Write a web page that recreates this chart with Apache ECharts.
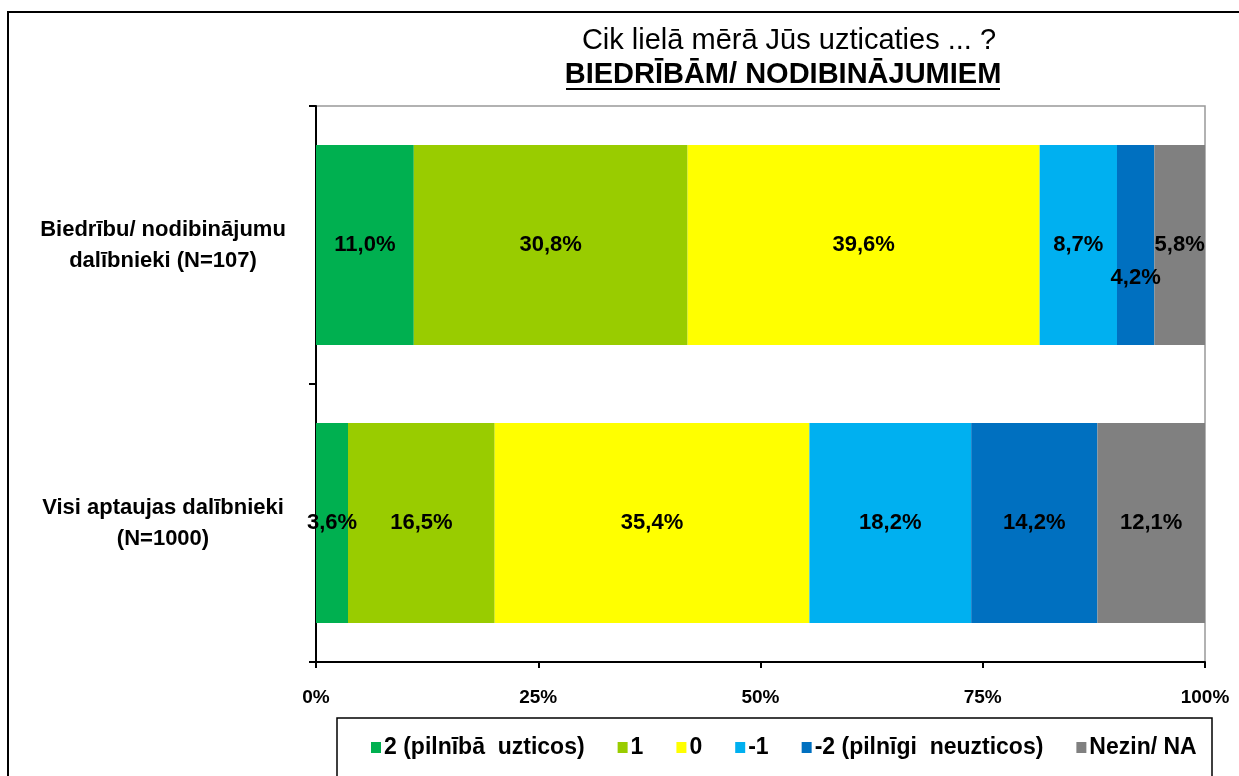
<!DOCTYPE html>
<html>
<head>
<meta charset="utf-8">
<script src="https://cdn.jsdelivr.net/npm/echarts@6/dist/echarts.min.js"></script>
<style>
html, body { margin: 0; padding: 0; background: #fff; }
#chart { width: 1239px; height: 776px; }
</style>
</head>
<body>
<div id="chart"></div>
<script>
// kategorijas un vērtības (%)
var categories = ['Biedrību/ nodibinājumu\ndalībnieki (N=107)', 'Visi aptaujas dalībnieki\n(N=1000)'];
var seriesNames = ['2 (pilnībā  uzticos)', '1', '0', '-1', '-2 (pilnīgi  neuzticos)', 'Nezin/ NA'];
var fullyTrust = [11.0, 3.6];
var trust = [30.8, 16.5];
var neutral = [39.6, 35.4];
var distrust = [8.7, 18.2];
var fullyDistrust = [4.2, 14.2];
var dontKnow = [5.8, 12.1];
var tickLabels = ['0%', '25%', '50%', '75%', '100%'];
var colors = ['#00B050', '#99CC00', '#FFFF00', '#00B0F0', '#0070C0', '#808080'];

var values = [fullyTrust, trust, neutral, distrust, fullyDistrust, dontKnow];
var fontName = 'Liberation Sans, Arial, sans-serif';

var myChart = echarts.init(document.getElementById('chart'));

var series = [];
for (var i = 0; i < values.length; i++) {
    var data = values[i].map(function (v, j) {
        // Excel nobīdīja šauro "4,2%" etiķeti uz leju
        if (i === 4 && j === 0) {
            return { value: v, label: { offset: [0, 33] } };
        }
        return v;
    });
    series.push({
        name: seriesNames[i],
        type: 'bar',
        stack: 'total',
        barCategoryGap: '28%',
        itemStyle: { color: colors[i] },
        label: {
            show: true,
            position: 'inside',
            color: '#000',
            fontFamily: fontName,
            fontWeight: 'bold',
            fontSize: 22,
            formatter: function (p) {
                return p.value.toFixed(1).replace('.', ',') + '%';
            }
        },
        data: data
    });
}

option = {
    animation: false,
    backgroundColor: '#fff',
    title: [
        {
            text: 'Cik lielā mērā Jūs uzticaties ... ?',
            left: 784, top: 21, textAlign: 'center',
            textStyle: { fontFamily: fontName, fontWeight: 'normal', fontSize: 29, color: '#000' }
        },
        {
            text: 'BIEDRĪBĀM/ NODIBINĀJUMIEM',
            left: 778, top: 55, textAlign: 'center',
            textStyle: { fontFamily: fontName, fontWeight: 'bold', fontSize: 29, color: '#000' }
        }
    ],
    graphic: [
        { type: 'rect', shape: { x: 8, y: 12, width: 1300, height: 800 }, style: { fill: null, stroke: '#000', lineWidth: 2 }, z: 100 },
        { type: 'line', shape: { x1: 566, y1: 89, x2: 1000, y2: 89 }, style: { stroke: '#000', lineWidth: 2 } },
        { type: 'rect', shape: { x: 337, y: 718, width: 875, height: 80 }, style: { fill: null, stroke: '#000', lineWidth: 1.5 } }
    ],
    legend: {
        left: 366, top: 731,
        itemWidth: 10, itemHeight: 11, itemGap: 33,
        icon: 'rect',
        textStyle: { fontFamily: fontName, fontWeight: 'bold', fontSize: 23, color: '#000', padding: [0, 0, 0, -2] },
        data: seriesNames
    },
    grid: {
        left: 316, right: 34, top: 106, bottom: 114,
        show: true, borderColor: '#999', borderWidth: 1.5, backgroundColor: '#fff'
    },
    xAxis: {
        type: 'value', min: 0, max: 100, interval: 25,
        axisLine: { show: true, lineStyle: { color: '#000', width: 2 } },
        axisTick: { show: true, length: 6, lineStyle: { color: '#000', width: 2 } },
        splitLine: { show: false },
        axisLabel: {
            margin: 26, color: '#000', fontFamily: fontName, fontWeight: 'bold', fontSize: 19,
            formatter: function (v) { return tickLabels[v / 25]; }
        }
    },
    yAxis: {
        type: 'category', inverse: true, data: categories,
        axisLine: { show: true, lineStyle: { color: '#000', width: 2 } },
        axisTick: { show: true, length: 7, lineStyle: { color: '#000', width: 2 } },
        axisLabel: {
            margin: 153, align: 'center', color: '#000', fontFamily: fontName, fontWeight: 'bold', fontSize: 22, lineHeight: 31
        }
    },
    series: series
};
myChart.setOption(option);
</script>
</body>
</html>
